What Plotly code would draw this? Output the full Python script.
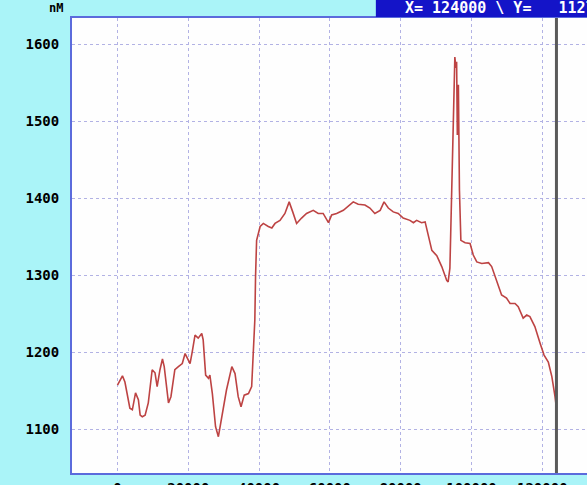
import plotly.graph_objects as go

# trace (x = sample position, y = nM)
pos = [0, 1400, 2100, 3500, 4200, 5100, 5900, 6400, 7000, 7800,
       8700, 9800, 10600, 11200, 12000, 12700, 13200, 13700, 14400, 15100,
       16200, 17200, 18300, 19100, 19800, 20500, 21100, 21900, 22800, 23800,
       24200, 24900, 25700, 26100, 26800, 27700, 28500, 29400, 30800, 32300,
       33200, 34100, 34900, 35800, 37000, 37900, 38400, 38800, 39000, 39300,
       40300, 41200, 42600, 43600, 44500, 45900, 47300, 48500, 49500, 50600,
       52000, 53400, 55300, 56700, 58100, 59600, 60500, 61900, 63800, 65200,
       66600, 68000, 69900, 71300, 72700, 74200, 75300, 76500, 77900, 79300,
       80700, 82600, 83600, 84500, 85900, 86900, 87800, 88800, 90200, 91600,
       93000, 93400, 93900, 94400, 94900, 95300, 95600, 95800, 96000, 96300,
       96600, 97000, 98200, 99600, 100500, 101500, 102900, 104800, 105700, 107100,
       108500, 109900, 110900, 112300, 113200, 114600, 115600, 116500, 117900, 119400,
       120500, 121700, 122700, 123600, 124000]
conc = [1157, 1169, 1161, 1127, 1125, 1147, 1138, 1118, 1116, 1118,
        1134, 1177, 1173, 1155, 1177, 1191, 1181, 1161, 1134, 1142,
        1177, 1181, 1185, 1198, 1192, 1185, 1200, 1222, 1218, 1224,
        1216, 1170, 1166, 1170, 1146, 1103, 1090, 1112, 1151, 1181,
        1172, 1142, 1129, 1144, 1146, 1155, 1198, 1242, 1298, 1345,
        1363, 1367, 1363, 1361, 1367, 1371, 1380, 1395, 1382, 1367,
        1374, 1380, 1384, 1380, 1380, 1368, 1378, 1380, 1384, 1390,
        1395, 1392, 1391, 1387, 1380, 1384, 1395, 1387, 1382, 1380,
        1374, 1371, 1368, 1371, 1368, 1369, 1350, 1332, 1325, 1311,
        1293, 1291, 1309, 1410, 1527, 1583, 1569, 1577, 1482, 1547,
        1410, 1345, 1342, 1341, 1326, 1317, 1315, 1316, 1311, 1293,
        1274, 1270, 1263, 1263, 1259, 1244, 1248, 1246, 1233, 1211,
        1196, 1187, 1168, 1142, 1127]

x_ticks = [0, 20000, 40000, 60000, 80000, 100000, 120000]
y_ticks = [1100, 1200, 1300, 1400, 1500, 1600]
cursor_x = 124000
readout = "X= 124000 \\ Y=   1127"

BG = "#aaf4f8"
GRID = "#b2b2e4"
FRAME = "#5b6bdc"
MONO = "DejaVu Sans Mono"

fig = go.Figure()
fig.add_trace(go.Scatter(x=pos, y=conc, mode="lines",
                         line=dict(color="#bd4343", width=1.6),
                         hoverinfo="skip"))

# cursor line
fig.add_shape(type="line", xref="x", yref="paper", x0=cursor_x, x1=cursor_x,
              y0=0, y1=1, line=dict(color="#5a5a5a", width=3))
# readout bar at the top
fig.add_shape(type="rect", xref="paper", yref="paper", x0=0.590, x1=1.05,
              y0=1.0022, y1=1.045, fillcolor="#1414c8", line_width=0, layer="above")
fig.add_annotation(xref="paper", yref="paper", x=0.642, y=1.021, text=readout,
                   showarrow=False, xanchor="left", yanchor="middle",
                   font=dict(family=MONO, size=15, color="white", weight="bold"))
fig.add_annotation(xref="paper", yref="paper", x=-0.014, y=1.021, text="nM",
                   showarrow=False, xanchor="right", yanchor="middle",
                   font=dict(family=MONO, size=12, color="black", weight="bold"))

fig.update_layout(
    width=587, height=485,
    margin=dict(l=72, r=0, t=18, b=12, autoexpand=False),
    paper_bgcolor=BG, plot_bgcolor="#fefefe",
    showlegend=False,
    xaxis=dict(range=[-12850, 132630], tickvals=x_ticks, tickformat="d",
               automargin=False,
               showgrid=True, gridcolor=GRID, griddash="dot", gridwidth=1,
               zeroline=False, showline=True, linecolor=FRAME, linewidth=2,
               mirror=True, ticks="", ticklabelstandoff=1,
               tickfont=dict(family=MONO, size=14, color="black", weight="bold")),
    yaxis=dict(range=[1042.9, 1633.8], tickvals=y_ticks, automargin=False,
               showgrid=True, gridcolor=GRID, griddash="dot", gridwidth=1,
               zeroline=False, showline=True, linecolor=FRAME, linewidth=2,
               mirror=False, ticks="", ticklabelstandoff=8,
               tickfont=dict(family=MONO, size=14, color="black", weight="bold")),
)

# the page body has a default 8px margin; drop it so the figure sits at 0,0
fig.write_html("out.html", config={"displayModeBar": False},
               post_script="document.body.style.margin='0';document.body.style.overflow='hidden';")
